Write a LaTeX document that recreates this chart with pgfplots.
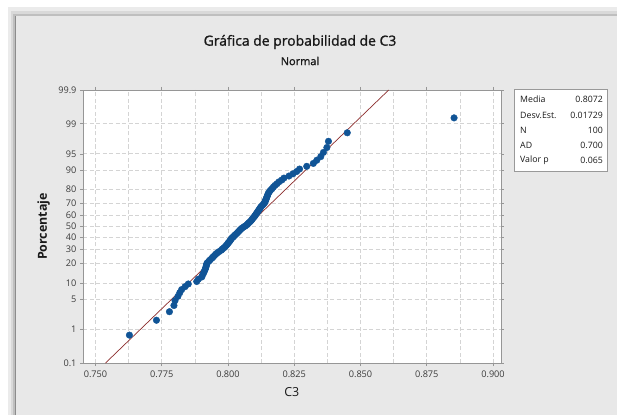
\documentclass[border=0pt]{standalone}
\usepackage{fontspec}
\setmainfont{Open Sans}
\newfontfamily\semib[FakeBold=1.3]{Open Sans}
\usepackage{pgfplots}
\usepackage{pgfplotstable}
\pgfplotsset{compat=1.18}
\definecolor{panel}{RGB}{232,232,232}
\definecolor{mblue}{RGB}{16,84,150}
\definecolor{fitline}{RGB}{140,45,45}
\definecolor{gridc}{RGB}{212,212,212}
\definecolor{axc}{RGB}{150,150,150}
\definecolor{txt}{RGB}{25,25,25}

\pgfplotstableread{
x z
0.7628 -2.459
0.7730 -2.122
0.7779 -1.929
0.7796 -1.788
0.7800 -1.677
0.7811 -1.582
0.7818 -1.500
0.7825 -1.428
0.7838 -1.362
0.7850 -1.301
0.7882 -1.245
0.7888 -1.192
0.7901 -1.143
0.7904 -1.096
0.7908 -1.052
0.7911 -1.010
0.7914 -0.969
0.7916 -0.930
0.7918 -0.892
0.7919 -0.855
0.7922 -0.820
0.7928 -0.785
0.7933 -0.752
0.7939 -0.719
0.7944 -0.687
0.7949 -0.656
0.7954 -0.625
0.7960 -0.595
0.7967 -0.566
0.7975 -0.536
0.7979 -0.508
0.7985 -0.480
0.7990 -0.452
0.7994 -0.424
0.7998 -0.397
0.8001 -0.370
0.8005 -0.344
0.8008 -0.317
0.8011 -0.291
0.8014 -0.265
0.8019 -0.239
0.8023 -0.214
0.8027 -0.189
0.8032 -0.163
0.8036 -0.138
0.8040 -0.113
0.8044 -0.087
0.8048 -0.062
0.8053 -0.037
0.8059 -0.012
0.8065 0.012
0.8071 0.037
0.8075 0.062
0.8079 0.087
0.8084 0.113
0.8088 0.138
0.8091 0.163
0.8094 0.189
0.8098 0.214
0.8101 0.239
0.8104 0.265
0.8107 0.291
0.8110 0.317
0.8113 0.344
0.8116 0.370
0.8119 0.397
0.8122 0.424
0.8125 0.452
0.8130 0.480
0.8134 0.508
0.8138 0.536
0.8140 0.566
0.8142 0.595
0.8144 0.625
0.8146 0.656
0.8148 0.687
0.8150 0.719
0.8152 0.752
0.8156 0.785
0.8160 0.820
0.8166 0.855
0.8171 0.892
0.8177 0.930
0.8185 0.969
0.8192 1.010
0.8203 1.052
0.8211 1.096
0.8230 1.143
0.8245 1.192
0.8259 1.245
0.8270 1.301
0.8297 1.362
0.8322 1.428
0.8335 1.500
0.8350 1.582
0.8360 1.677
0.8373 1.788
0.8379 1.929
0.8450 2.122
0.8853 2.459
}\datatable

\begin{document}
\begin{tikzpicture}[x=1bp,y=1bp]
\useasboundingbox (0,0) rectangle (617,415);
\fill[white] (0,0) rectangle (617,415);
% window shadow
\fill[black!8] (8,0) rectangle (617,408);
\fill[black!15] (11,0) rectangle (617,404);
\fill[black!25] (13,0) rectangle (617,401);
\fill[panel] (15,0) rectangle (617,399);
\draw[black!45, line width=1.5bp] (15.5,0) -- (15.5,399);

\node[font=\semib\fontsize{14}{16}\selectfont, text=txt] at (300,373) {Gráfica de probabilidad de C3};
\node[font=\semib\fontsize{11}{13}\selectfont, text=txt] at (300,354) {Normal};

\begin{axis}[
  at={(83bp,52bp)}, anchor=south west,
  scale only axis, width=417.7bp, height=273bp,
  xmin=0.74528, xmax=0.9029,
  ymin=-3.0902, ymax=3.0902,
  axis line style={axc},
  axis background/.style={fill=white},
  tick align=outside,
  major tick length=3bp,
  minor tick length=0bp,
  tick style={axc, line width=0.6bp},
  xtick={0.75,0.775,0.8,0.825,0.85,0.875,0.9},
  xticklabels={0.750,0.775,0.800,0.825,0.850,0.875,0.900},
  minor xtick={0.7625,0.7875,0.8125,0.8375,0.8625,0.8875},
  ytick={-3.0902,-2.3263,-1.6449,-1.2816,-0.8416,-0.5244,-0.2533,0,0.2533,0.5244,0.8416,1.2816,1.6449,2.3263,3.0902},
  yticklabels={0.1,1,5,10,20,30,40,50,60,70,80,90,95,99,99.9},
  xmajorgrids, xminorgrids, ymajorgrids,
  major grid style={gridc, dash pattern=on 4bp off 2.5bp, line width=0.7bp},
  minor grid style={gridc, dash pattern=on 4bp off 2.5bp, line width=0.7bp},
  tick label style={font=\fontsize{9.2}{10}\selectfont, text=txt!85},
  xticklabel style={yshift=-1bp},
  xlabel={C3},
  ylabel={\textbf{Porcentaje}},
  xlabel style={font=\fontsize{12.5}{14}\selectfont, text=txt, at={(axis description cs:0.5,-0.105)}, anchor=center},
  ylabel style={font=\fontsize{12.5}{14}\selectfont, text=txt, at={(axis description cs:-0.094,0.5)}, anchor=center, rotate=0},
  clip=true,
]
\addplot[fitline, line width=0.7bp] coordinates {(0.75377,-3.0902) (0.86063,3.0902)};
\addplot[only marks, mark=*, mark size=3.3bp, mark options={fill=mblue, draw=mblue}] table[x=x, y=z] {\datatable};
\end{axis}

% info box
\draw[black!40, fill=white, line width=0.6bp] (514,326) rectangle (607,244);
\begin{scope}[every node/.style={font=\fontsize{8.8}{10}\selectfont, text=txt, inner sep=0pt}]
\node[anchor=west] at (520,316) {Media};
\node[anchor=east] at (603,316) {0.8072};
\node[anchor=west] at (520,300) {Desv.Est.};
\node[anchor=east] at (603,300) {0.01729};
\node[anchor=west] at (520,285) {N};
\node[anchor=east] at (603,285) {100};
\node[anchor=west] at (520,270) {AD};
\node[anchor=east] at (603,270) {0.700};
\node[anchor=west] at (520,255) {Valor p};
\node[anchor=east] at (603,255) {0.065};
\end{scope}
\end{tikzpicture}
\end{document}
